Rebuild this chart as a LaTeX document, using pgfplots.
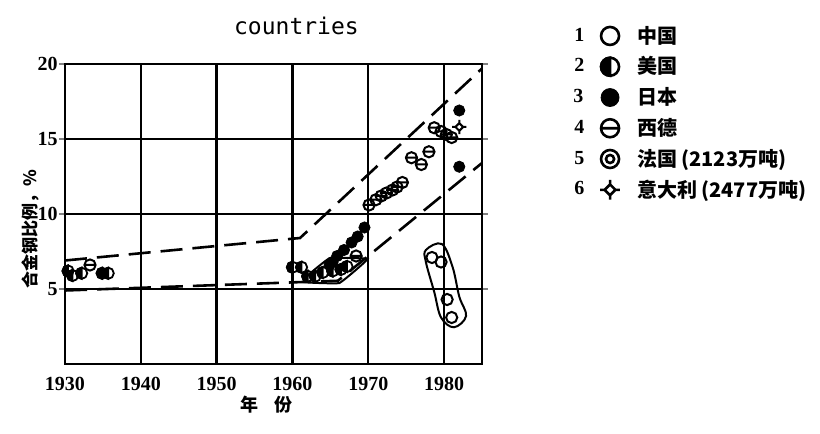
\documentclass[border=0pt]{standalone}
\usepackage{fontspec}
\setmainfont{Liberation Serif}
\newfontfamily\cjk{Noto Sans CJK SC}
\newfontfamily\monofont{DejaVu Sans Mono}
\usepackage{pgfplots}
\pgfplotsset{compat=1.18}
\usetikzlibrary{plotmarks}

\pgfdeclareplotmark{lhalf}{%
  \pgfpathcircle{\pgfpointorigin}{\pgfplotmarksize}\pgfusepathqstroke
  \pgfpathmoveto{\pgfqpoint{0pt}{\pgfplotmarksize}}%
  \pgfpatharc{90}{270}{\pgfplotmarksize}\pgfpathclose
  \pgfusepathqfillstroke}
\pgfdeclareplotmark{ominus}{%
  \pgfpathcircle{\pgfpointorigin}{\pgfplotmarksize}%
  \pgfpathmoveto{\pgfqpoint{-\pgfplotmarksize}{0pt}}%
  \pgfpathlineto{\pgfqpoint{\pgfplotmarksize}{0pt}}%
  \pgfusepathqstroke}
\pgfdeclareplotmark{dcircle}{%
  \pgfpathcircle{\pgfpointorigin}{\pgfplotmarksize}%
  \pgfpathcircle{\pgfpointorigin}{0.45\pgfplotmarksize}%
  \pgfusepathqstroke}
\pgfdeclareplotmark{tdiamond}{%
  \pgfpathmoveto{\pgfqpoint{0pt}{0.6\pgfplotmarksize}}%
  \pgfpathlineto{\pgfqpoint{0.6\pgfplotmarksize}{0pt}}%
  \pgfpathlineto{\pgfqpoint{0pt}{-0.6\pgfplotmarksize}}%
  \pgfpathlineto{\pgfqpoint{-0.6\pgfplotmarksize}{0pt}}%
  \pgfpathclose
  \pgfpathmoveto{\pgfqpoint{0pt}{0.6\pgfplotmarksize}}\pgfpathlineto{\pgfqpoint{0pt}{1.1\pgfplotmarksize}}%
  \pgfpathmoveto{\pgfqpoint{0pt}{-0.6\pgfplotmarksize}}\pgfpathlineto{\pgfqpoint{0pt}{-1.1\pgfplotmarksize}}%
  \pgfpathmoveto{\pgfqpoint{0.6\pgfplotmarksize}{0pt}}\pgfpathlineto{\pgfqpoint{1.1\pgfplotmarksize}{0pt}}%
  \pgfpathmoveto{\pgfqpoint{-0.6\pgfplotmarksize}{0pt}}\pgfpathlineto{\pgfqpoint{-1.1\pgfplotmarksize}{0pt}}%
  \pgfusepathqstroke}

\pgfplotsset{numimg/.style={legend image code/.code={%
  \node[font=\rmfamily\bfseries\fontsize{10}{11}\selectfont, inner sep=0pt, draw=none, fill=none] at (0pt,0pt) {#1};
  \path[draw=none, fill=none] (0pt,0pt) -- (30pt,0pt);
  \draw[mark repeat=2,mark phase=2] plot coordinates {(0pt,0pt)(18.5pt,0pt)(24pt,0pt)};}}}

\begin{document}
\begin{tikzpicture}
\begin{axis}[
  scale only axis, width=208.5pt, height=150pt,
  xmin=1930, xmax=1985, ymin=0, ymax=20,
  xtick={1930,1940,1950,1960,1970,1980}, ytick={5,10,15,20},
  grid=major, grid style={black, line width=1.2pt},
  axis line style={line width=1.2pt},
  /pgf/number format/assume math mode=true,
  xticklabel style={/pgf/number format/1000 sep={}},
  yticklabel style={inner sep=0.5pt},
  ticklabel style={font=\bfseries\fontsize{10}{11}\selectfont},
  xtick style={draw=none},
  ytick style={line width=1pt}, tick align=outside, major tick length=3pt,
  title={countries},
  title style={font=\monofont\fontsize{11.5}{13}\selectfont, at={(0.555,1)}, anchor=center, yshift=13pt},
  xlabel={\cjk\bfseries 年\hspace{8pt}份},
  xlabel style={font=\fontsize{9}{10}\selectfont, xshift=-3.5pt, yshift=4pt},
  ylabel={\cjk\bfseries 合金钢比例，\%},
  ylabel style={font=\fontsize{8.5}{9}\selectfont, at={(axis description cs:-0.084,0.45)}, anchor=center},
  legend style={at={(1.203,1.155)}, anchor=north west, draw=none, fill=none,
    font=\cjk\bfseries\fontsize{10}{11}\selectfont, row sep=1.3pt},
  legend cell align=left,
]
% envelope lines
\addplot[forget plot, black, line width=1.3pt, dash pattern=on 11pt off 5pt] coordinates {(1930,6.9)(1961,8.4)(1985,19.7)};
\addplot[forget plot, black, line width=1.3pt, dash pattern=on 11pt off 5pt] coordinates {(1930,4.9)(1966,5.55)(1985,13.4)};
% outlines
\addplot[forget plot, black, line width=1pt, smooth cycle, tension=0.15] coordinates {(1961.6,5.45)(1966.2,5.4)(1969.9,7.0)(1964.9,7.05)(1962.0,5.9)};
\addplot[forget plot, black, line width=1pt, smooth cycle, tension=0.6] coordinates {(1977.6,7.6)(1979.7,8.0)(1981.1,6.5)(1982.0,4.5)(1982.9,3.2)(1981.3,2.45)(1979.6,3.1)(1978.7,4.8)(1977.6,6.8)};
% US
\addplot[forget plot, only marks, mark=lhalf, mark size=2.8pt, line width=0.9pt, draw=black, fill=black] coordinates {
(1930.4,6.2)(1931,5.9)(1932.2,6.05)(1934.9,6.05)(1935.7,6.05)
(1960,6.45)(1961.2,6.45)(1962,5.85)(1963,5.85)(1964,6.1)
(1965.3,6.2)(1966.4,6.3)(1967.2,6.5)};
% Japan
\addplot[forget plot, only marks, mark=*, mark size=2.8pt, black] coordinates {
(1964.9,6.6)(1965.3,6.8)(1965.9,7.2)(1966.8,7.6)(1967.8,8.1)(1968.6,8.5)(1969.5,9.1)
(1982,16.9)(1982,13.15)};
% West Germany
\addplot[forget plot, only marks, mark=ominus, mark size=2.8pt, line width=1pt, black] coordinates {
(1933.3,6.6)(1968.4,7.2)
(1970.1,10.6)(1971,10.95)(1971.7,11.2)(1972.4,11.4)(1973.2,11.6)(1973.8,11.8)(1974.5,12.1)
(1975.7,13.75)(1977,13.3)(1978,14.15)
(1978.7,15.75)(1979.6,15.5)(1980.3,15.3)(1981,15.1)};
% China
\addplot[forget plot, only marks, mark=o, mark size=2.8pt, line width=1pt, black] coordinates {
(1978.4,7.1)(1979.6,6.8)(1980.4,4.3)(1981,3.1)};
% Italy
\addplot[forget plot, only marks, mark=tdiamond, mark size=3.2pt, line width=1pt, black] coordinates {(1982,15.8)};
% legend
\addlegendimage{numimg=1, only marks, mark=o, mark size=4.5pt, line width=1.3pt, black}
\addlegendentry{中国}
\addlegendimage{numimg=2, only marks, mark=lhalf, mark size=4.5pt, line width=1.3pt, draw=black, fill=black}
\addlegendentry{美国}
\addlegendimage{numimg=3, only marks, mark=*, mark size=4.5pt, black}
\addlegendentry{日本}
\addlegendimage{numimg=4, only marks, mark=ominus, mark size=4.5pt, line width=1.3pt, black}
\addlegendentry{西德}
\addlegendimage{numimg=5, only marks, mark=dcircle, mark size=4.5pt, line width=1.3pt, black}
\addlegendentry{法国 (2123万吨)}
\addlegendimage{numimg=6, only marks, mark=tdiamond, mark size=4.5pt, line width=1.3pt, black}
\addlegendentry{意大利 (2477万吨)}
\end{axis}
\path ([xshift=-32.5pt,yshift=-35pt]current axis.south west) rectangle ([xshift=169pt,yshift=32pt]current axis.north east);
\end{tikzpicture}
\end{document}
